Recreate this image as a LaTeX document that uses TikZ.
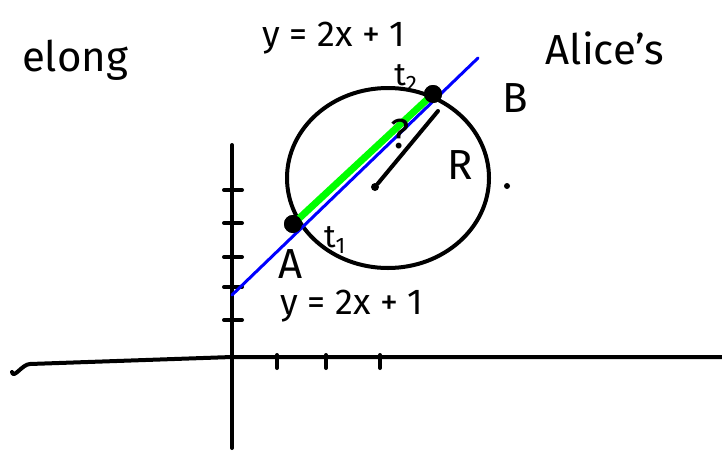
\documentclass[tikz,border=0pt]{standalone}
\usepackage{fontspec}
\setsansfont{Fira Sans}
\usepackage{tikz}
\tikzset{
    pen/.style={line width=4pt, line cap=round, line join=round},
    dot/.style={circle, fill=black, inner sep=0pt, minimum size=18pt},
    smalldot/.style={circle, fill=black, inner sep=0pt, minimum size=8pt},
    hand/.style={font=\sffamily\fontsize{42}{46}\selectfont, inner sep=1pt},
    linelabel/.style={font=\sffamily\fontsize{36}{40}\selectfont, inner sep=1pt},
    tlabel/.style={font=\sffamily\fontsize{32}{36}\selectfont, inner sep=1pt}
}

\begin{document}
\begin{tikzpicture}[x=1pt, y=-1pt]
    \useasboundingbox (0,0) rectangle (722,450);

    % axes
    \coordinate (xl) at (12,372);
    \coordinate (xm) at (232,357);
    \coordinate (xr) at (722,357);
    \coordinate (yt) at (232,145);
    \coordinate (yb) at (232,448);
    \draw[pen] (xl) to[out=-80,in=180] (30,364) -- (xm) -- (xr);
    \draw[pen] (yt) -- (yb);

    % ticks
    \foreach \ty in {190,223,257,287,320}
        \draw[pen] (224,\ty) -- (242,\ty);
    \foreach \tx in {277,326,380}
        \draw[pen] (\tx,355) -- (\tx,368);

    % circle
    \coordinate (cen) at (388,178);
    \draw[pen] (cen) ellipse [x radius=101, y radius=90];

    % line and chord
    \coordinate (lo) at (232,295);
    \coordinate (hi) at (478,58);
    \node[dot] (A) at (293,224) {};
    \node[dot] (B) at (433,94) {};
    \draw[blue, line width=3pt, line cap=round] (lo) -- (hi);
    \draw[green, line width=7pt] (A.center) -- (B.center);
    \node[dot] at (A.center) {};
    \node[dot] at (B.center) {};

    % radius
    \node[smalldot] (ctr) at (375,187) {};
    \coordinate (rtip) at (438,111);
    \draw[pen] (ctr) -- (rtip);
    \node[hand] (q) at (400,134) {?};
    \node[hand] (R) at (460,165) {R};
    \node[smalldot, minimum size=6pt] (rdot) at (507,186) {};

    % labels
    \node[hand] (elong) at (75,60) {elong};
    \node[linelabel] (eqtop) at (334,38) {y = 2x + 1};
    \node[hand] (alice) at (605,48) {Alice's};
    \node[tlabel] (t2) at (406,78) {t\textsubscript{2}};
    \node[hand] (Blab) at (515,98) {B};
    \node[tlabel] (t1) at (335,240) {t\textsubscript{1}};
    \node[hand] (Alab) at (291,264) {A};
    \node[linelabel] (eqbot) at (352,306) {y = 2x + 1};
\end{tikzpicture}
\end{document}
